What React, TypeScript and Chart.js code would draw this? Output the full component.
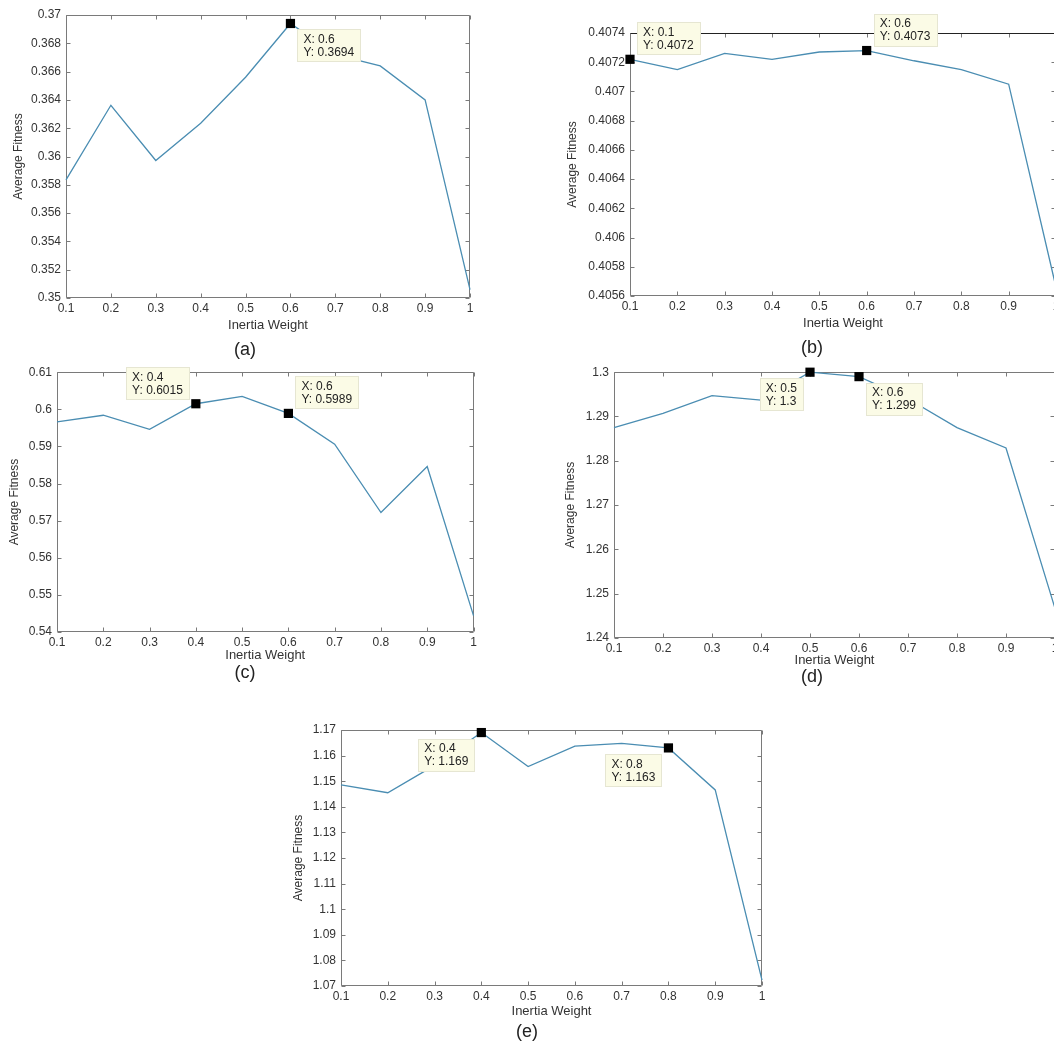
import React, { useEffect, useRef } from "react";
import { Chart, registerables } from "chart.js";

Chart.register(...registerables);

// ---------- data ----------
const inertiaWeights = [0.1, 0.2, 0.3, 0.4, 0.5, 0.6, 0.7, 0.8, 0.9, 1];
const xTickValues = [0.1, 0.2, 0.3, 0.4, 0.5, 0.6, 0.7, 0.8, 0.9, 1];

const fitnessA = [0.35835, 0.36362, 0.35972, 0.36235, 0.3656, 0.3694, 0.3672, 0.3664, 0.364, 0.35059];
const fitnessB = [0.40722, 0.40715, 0.40726, 0.40722, 0.40727, 0.40728, 0.40721, 0.40715, 0.40705, 0.40566];
const fitnessC = [0.5966, 0.5984, 0.5946, 0.6015, 0.6035, 0.5989, 0.5906, 0.5722, 0.5846, 0.5444];
const fitnessD = [1.2875, 1.2907, 1.2947, 1.2937, 1.3, 1.299, 1.294, 1.2875, 1.2829, 1.2467];
const fitnessE = [1.1486, 1.1455, 1.1562, 1.169, 1.1557, 1.1637, 1.1648, 1.163, 1.1466, 1.0723];

const yTicksA = [0.35, 0.352, 0.354, 0.356, 0.358, 0.36, 0.362, 0.364, 0.366, 0.368, 0.37];
const yTicksB = [0.4056, 0.4058, 0.406, 0.4062, 0.4064, 0.4066, 0.4068, 0.407, 0.4072, 0.4074];
const yTicksC = [0.54, 0.55, 0.56, 0.57, 0.58, 0.59, 0.6, 0.61];
const yTicksD = [1.24, 1.25, 1.26, 1.27, 1.28, 1.29, 1.3];
const yTicksE = [1.07, 1.08, 1.09, 1.1, 1.11, 1.12, 1.13, 1.14, 1.15, 1.16, 1.17];

// data tips (x value of the marked point)
const tipsA = [0.6];
const tipsB = [0.1, 0.6];
const tipsC = [0.4, 0.6];
const tipsD = [0.5, 0.6];
const tipsE = [0.4, 0.8];

const panelLabels = ["(a)", "(b)", "(c)", "(d)", "(e)"];

// ---------- styles ----------
const FONT = '"Liberation Sans", Arial, Helvetica, sans-serif';
const LINE_COLOR = "#4a8db2";
const BOX_COLOR = "#7a7a7a";
const TEXT_COLOR = "#333333";

type TipPlace = { side: "left" | "right"; vert: "above" | "below" };

type PanelCfg = {
  ys: number[];
  yTicks: number[];
  tips: number[];
  tipPlace: TipPlace[];
  rect: [number, number, number, number]; // canvas x, y, w, h
  area: { L: number; R: number; T: number; B: number };
  yTitleX: number;
  xTitleY: number;
  topColor?: string;
};

const panels: PanelCfg[] = [
  {
    ys: fitnessA, yTicks: yTicksA, tips: tipsA,
    tipPlace: [{ side: "right", vert: "below" }],
    rect: [0, 0, 480, 340], area: { L: 66, R: 470, T: 15, B: 298 }, yTitleX: 19, xTitleY: 325,
  },
  {
    ys: fitnessB, yTicks: yTicksB, tips: tipsB,
    tipPlace: [{ side: "right", vert: "above" }, { side: "right", vert: "above" }],
    rect: [540, 0, 530, 340], area: { L: 630, R: 1056, T: 33, B: 296 }, yTitleX: 573, xTitleY: 323,
    topColor: "#222222",
  },
  {
    ys: fitnessC, yTicks: yTicksC, tips: tipsC,
    tipPlace: [{ side: "left", vert: "above" }, { side: "right", vert: "above" }],
    rect: [0, 360, 480, 320], area: { L: 57, R: 476, T: 369, B: 632 }, yTitleX: 15, xTitleY: 655,
  },
  {
    ys: fitnessD, yTicks: yTicksD, tips: tipsD,
    tipPlace: [{ side: "left", vert: "below" }, { side: "right", vert: "below" }],
    rect: [540, 360, 530, 320], area: { L: 614, R: 1055, T: 369, B: 638 }, yTitleX: 571, xTitleY: 660,
  },
  {
    ys: fitnessE, yTicks: yTicksE, tips: tipsE,
    tipPlace: [{ side: "left", vert: "below" }, { side: "left", vert: "below" }],
    rect: [270, 700, 520, 345], area: { L: 341, R: 762, T: 730, B: 986 }, yTitleX: 299, xTitleY: 1011,
  },
];

const labelPos: [number, number][] = [
  [245, 349],
  [812, 347],
  [245, 672],
  [812, 676],
  [527, 1031],
];

const fmt = (v: number) => String(Number(Number(v).toFixed(6)));

function Panel({ cfg }: { cfg: PanelCfg }) {
  const ref = useRef<HTMLCanvasElement>(null);
  const [cx, cy, cw, ch] = cfg.rect;

  useEffect(() => {
    const canvas = ref.current;
    if (!canvas) return;
    const { area } = cfg;
    const yTitleSize = 12;
    const xTitleSize = 13;
    const lhTitleY = yTitleSize * 1.2;
    const lhTitleX = xTitleSize * 1.2;

    const framePlugin = {
      id: "frame",
      beforeDatasetsDraw(chart: any) {
        const { ctx, chartArea: a, scales } = chart;
        const xs = scales.x;
        const ys = scales.y;
        ctx.save();
        ctx.lineWidth = 1;
        ctx.strokeStyle = BOX_COLOR;
        const l = Math.round(a.left) + 0.5;
        const r = Math.round(a.right) - 0.5;
        const t = Math.round(a.top) + 0.5;
        const b = Math.round(a.bottom) - 0.5;
        ctx.beginPath();
        ctx.moveTo(l, t);
        ctx.lineTo(l, b);
        ctx.lineTo(r, b);
        ctx.lineTo(r, t);
        xTickValues.forEach((v) => {
          const px = Math.round(xs.getPixelForValue(v)) + 0.5;
          ctx.moveTo(px, b);
          ctx.lineTo(px, b - 4);
          ctx.moveTo(px, t);
          ctx.lineTo(px, t + 4);
        });
        cfg.yTicks.forEach((v) => {
          const py = Math.round(ys.getPixelForValue(v)) + 0.5;
          ctx.moveTo(l, py);
          ctx.lineTo(l + 4, py);
          ctx.moveTo(r, py);
          ctx.lineTo(r - 4, py);
        });
        ctx.stroke();
        ctx.beginPath();
        ctx.strokeStyle = cfg.topColor || BOX_COLOR;
        ctx.moveTo(l, t);
        ctx.lineTo(r, t);
        ctx.stroke();
        ctx.restore();
      },
      afterDatasetsDraw(chart: any) {
        const { ctx, scales } = chart;
        ctx.save();
        ctx.font = `12px ${FONT}`;
        ctx.textBaseline = "middle";
        cfg.tips.forEach((tx, i) => {
          const idx = inertiaWeights.indexOf(tx);
          const ty = cfg.ys[idx];
          const px = scales.x.getPixelForValue(tx);
          const py = scales.y.getPixelForValue(ty);
          const lines = [`X: ${fmt(tx)}`, `Y: ${String(Number(ty.toPrecision(4)))}`];
          const w = Math.max(...lines.map((s) => ctx.measureText(s).width)) + 13;
          const h = 33;
          const place = cfg.tipPlace[i];
          const bx = place.side === "right" ? px + 7 : px - 6 - w;
          const by = place.vert === "above" ? py - 37 : py + 6;
          ctx.fillStyle = "#fbfbe6";
          ctx.fillRect(Math.round(bx), Math.round(by), Math.round(w), h);
          ctx.strokeStyle = "#e6e6d2";
          ctx.lineWidth = 1;
          ctx.strokeRect(Math.round(bx) + 0.5, Math.round(by) + 0.5, Math.round(w) - 1, h - 1);
          ctx.fillStyle = "#222222";
          ctx.fillText(lines[0], bx + 6, by + 10.5);
          ctx.fillText(lines[1], bx + 6, by + 23.5);
        });
        ctx.restore();
      },
    };

    const tickFont = { family: FONT, size: 12 };

    const chart = new Chart(canvas, {
      type: "line",
      data: {
        datasets: [
          {
            data: cfg.tips.map((x) => ({ x, y: cfg.ys[inertiaWeights.indexOf(x)] })),
            showLine: false,
            pointStyle: "rect",
            pointRadius: 6.5,
            pointBackgroundColor: "#000000",
            pointBorderWidth: 0,
            borderWidth: 0,
            clip: false as any,
            order: 0,
          },
          {
            data: inertiaWeights.map((x, i) => ({ x, y: cfg.ys[i] })),
            borderColor: LINE_COLOR,
            borderWidth: 1.3,
            pointRadius: 0,
            tension: 0,
            fill: false,
            clip: false as any,
            order: 1,
          },
        ],
      },
      options: {
        responsive: false,
        animation: false,
        devicePixelRatio: 1,
        events: [],
        layout: {
          padding: { left: 0, top: area.T - cy, right: cx + cw - area.R, bottom: 0 },
        },
        plugins: {
          legend: { display: false },
          tooltip: { enabled: false },
          title: { display: false },
        },
        scales: {
          x: {
            type: "linear",
            min: 0.1,
            max: 1,
            grid: { display: false, drawTicks: false },
            border: { display: false },
            afterBuildTicks: (s: any) => {
              s.ticks = xTickValues.map((v) => ({ value: v }));
            },
            afterFit: (s: any) => {
              s.height = cy + ch - area.B;
            },
            ticks: {
              padding: 3,
              autoSkip: false,
              maxRotation: 0,
              font: tickFont,
              color: TEXT_COLOR,
              callback: (v: any) => fmt(v),
            },
            title: {
              display: true,
              text: "Inertia Weight",
              font: { family: FONT, size: xTitleSize },
              color: TEXT_COLOR,
              padding: { top: 0, bottom: cy + ch - cfg.xTitleY - lhTitleX / 2 },
            },
          },
          y: {
            type: "linear",
            min: cfg.yTicks[0],
            max: cfg.yTicks[cfg.yTicks.length - 1],
            grid: { display: false, drawTicks: false },
            border: { display: false },
            afterBuildTicks: (s: any) => {
              s.ticks = cfg.yTicks.map((v) => ({ value: v }));
            },
            afterFit: (s: any) => {
              s.width = area.L - cx;
            },
            ticks: {
              padding: 5,
              autoSkip: false,
              font: tickFont,
              color: TEXT_COLOR,
              callback: (v: any) => fmt(v),
            },
            title: {
              display: true,
              text: "Average Fitness",
              font: { family: FONT, size: yTitleSize },
              color: TEXT_COLOR,
              padding: { top: cfg.yTitleX - cx - lhTitleY / 2, bottom: 0 },
            },
          },
        },
      } as any,
      plugins: [framePlugin],
    });
    return () => chart.destroy();
  }, []);

  return (
    <canvas
      ref={ref}
      width={cw}
      height={ch}
      style={{ position: "absolute", left: cx, top: cy, width: cw, height: ch }}
    />
  );
}

export default function App() {
  return (
    <div
      style={{
        position: "absolute",
        left: 0,
        top: 0,
        width: 1054,
        height: 1045,
        overflow: "hidden",
        background: "#ffffff",
        fontFamily: FONT,
      }}
    >
      {panels.map((p, i) => (
        <Panel key={i} cfg={p} />
      ))}
      {panelLabels.map((t, i) => (
        <div
          key={t}
          style={{
            position: "absolute",
            left: labelPos[i][0] - 30,
            top: labelPos[i][1] - 11,
            width: 60,
            height: 22,
            lineHeight: "22px",
            textAlign: "center",
            fontSize: 18,
            color: "#222",
          }}
        >
          {t}
        </div>
      ))}
    </div>
  );
}
